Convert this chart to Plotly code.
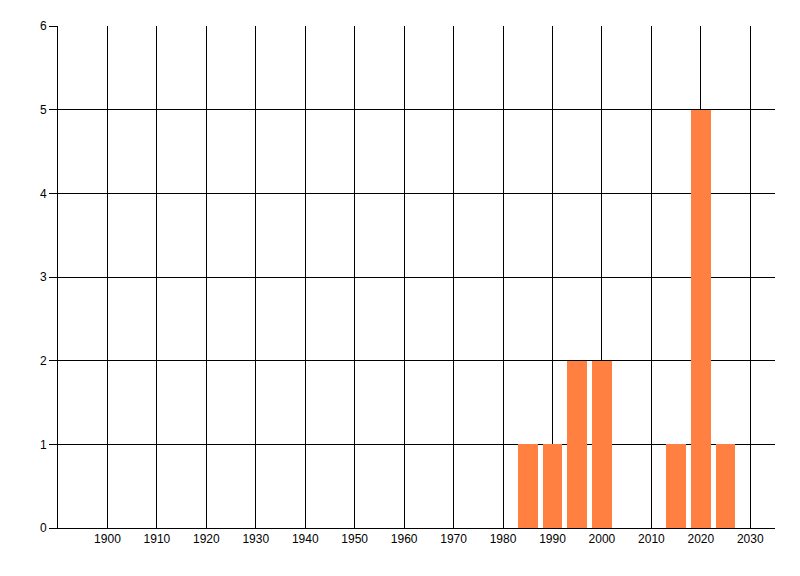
import plotly.graph_objects as go

years = [1985, 1990, 1995, 2000, 2015, 2020, 2025]
counts = [1, 1, 2, 2, 1, 5, 1]
x_ticks = list(range(1900, 2031, 10))
y_ticks = [0, 1, 2, 3, 4, 5, 6]

fig = go.Figure(go.Bar(x=years, y=counts, width=4, marker=dict(color="#FF8040", line=dict(width=0))))

fig.update_layout(
    width=792, height=568,
    margin=dict(l=50, r=25, t=18, b=48),
    paper_bgcolor="white", plot_bgcolor="white",
    font=dict(family="Liberation Sans, Arial, sans-serif", size=12, color="#000000"),
    showlegend=False,
    bargap=0,
)
fig.update_xaxes(
    range=[1890, 2035], tickvals=x_ticks, ticktext=[str(v) for v in x_ticks],
    showgrid=True, gridcolor="black", gridwidth=1,
    showline=True, linecolor="black", linewidth=1,
    ticks="", zeroline=False, tickfont=dict(size=12),
)
fig.update_yaxes(
    range=[0, 6], tickvals=y_ticks,
    showgrid=True, gridcolor="black", gridwidth=1,
    showline=True, linecolor="black", linewidth=1,
    ticks="outside", ticklen=8, tickcolor="black", zeroline=False,
    tickfont=dict(size=12),
)
fig.write_html("out.html")
